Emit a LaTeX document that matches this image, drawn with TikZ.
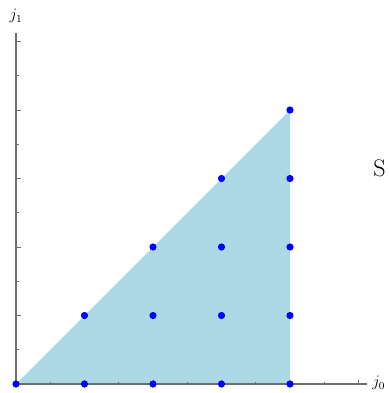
\documentclass[tikz,border=0pt]{standalone}
\definecolor{fillblue}{RGB}{173,216,230}
\definecolor{axisgray}{RGB}{110,110,110}
\begin{document}
\begin{tikzpicture}[x=0.75pt,y=-0.75pt,
  dot/.style={circle,fill=blue,inner sep=0pt,minimum size=5.4pt},
  axisline/.style={draw=axisgray,line width=0.9pt},
  tickline/.style={draw=axisgray,line width=0.6pt},
  lbl/.style={inner sep=0pt,font=\fontsize{12}{14}\selectfont}]
\useasboundingbox (0,0) rectangle (389,393);
\coordinate (O) at (16,384);
\coordinate (xend) at (367,384);
\coordinate (yend) at (16,33);
\fill[fillblue] (16,384) -- (290,110) -- (290,384) -- cycle;
\draw[axisline] (O) -- (xend);
\draw[axisline] (O) -- (yend);
\foreach \k in {1,...,10}{
  \pgfmathsetmacro{\len}{ifthenelse(mod(\k,2)==0,4.5,2.5)}
  \draw[tickline] (16+34.25*\k,384) -- ++(0,-\len);
  \draw[tickline] (16,384-34.25*\k) -- ++(\len,0);
}
\foreach \i in {0,...,4}{
  \foreach \j in {0,...,\i}{
    \node[dot] (p\i\j) at (16+68.5*\i,384-68.5*\j) {};
  }
}
\node[lbl,anchor=west] (j0) at (372,383) {$j_0$};
\node[lbl] (j1) at (16,16) {$j_1$};
\node[inner sep=0pt,anchor=west,font=\fontsize{18}{21}\selectfont] (S) at (373,168) {S};
\end{tikzpicture}
\end{document}
